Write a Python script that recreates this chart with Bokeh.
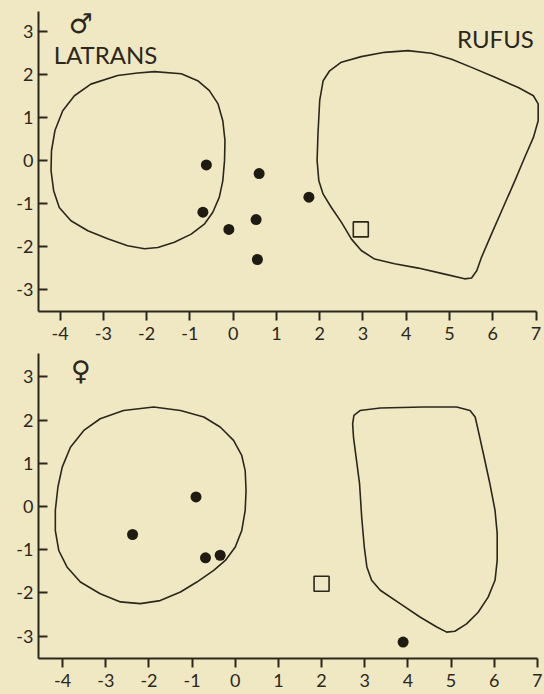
from bokeh.plotting import figure
from bokeh.layouts import column
from bokeh.models import Range1d, FixedTicker
from bokeh.core.properties import value
from bokeh.embed import file_html
from bokeh.resources import INLINE

# ---- data -------------------------------------------------------------
tick_x = [-4, -3, -2, -1, 0, 1, 2, 3, 4, 5, 6, 7]
tick_x_labels = ["-4", "-3", "-2", "-1", "0", "1", "2", "3", "4", "5", "6", "7"]
tick_y = [-3, -2, -1, 0, 1, 2, 3]
tick_y_labels = ["-3", "-2", "-1", "0", "1", "2", "3"]

# males: LATRANS and RUFUS outlines
m_latrans_x = [-1.82, -1.20, -0.82, -0.55, -0.35, -0.24, -0.19, -0.20, -0.24, -0.32, -0.47, -0.66,
               -0.97, -1.36, -1.74, -2.05, -2.44, -2.90, -3.36, -3.75, -4.02, -4.15, -4.21, -4.20,
               -4.12, -3.94, -3.67, -3.29, -2.67, -2.21]
m_latrans_y = [2.07, 2.02, 1.86, 1.63, 1.32, 0.93, 0.47, 0.00, -0.47, -0.85, -1.20, -1.47,
               -1.71, -1.90, -2.02, -2.05, -1.98, -1.82, -1.63, -1.40, -1.09, -0.70, -0.23, 0.23,
               0.70, 1.16, 1.51, 1.78, 1.98, 2.04]
m_rufus_x = [4.04, 4.58, 5.05, 5.51, 6.05, 6.59, 6.94, 7.05, 7.05, 6.94, 6.74, 6.51, 6.24, 5.97,
             5.74, 5.63, 5.51, 5.35, 4.89, 4.28, 3.73, 3.27, 2.96, 2.73, 2.50, 2.27, 2.08, 1.98,
             1.94, 1.96, 2.00, 2.08, 2.23, 2.50, 2.96, 3.50]
m_rufus_y = [2.56, 2.50, 2.36, 2.17, 1.94, 1.70, 1.51, 1.32, 0.93, 0.54, 0.08, -0.47, -1.09, -1.71,
             -2.25, -2.56, -2.73, -2.75, -2.64, -2.50, -2.40, -2.29, -2.09, -1.82, -1.43, -1.09,
             -0.78, -0.47, 0.00, 0.62, 1.40, 1.86, 2.09, 2.29, 2.42, 2.52]
m_dots_x = [-0.62, -0.70, -0.10, 0.60, 0.53, 0.56, 1.75]
m_dots_y = [-0.10, -1.20, -1.60, -0.30, -1.37, -2.30, -0.85]
m_square_x = [2.95]
m_square_y = [-1.60]

# females: LATRANS and RUFUS outlines
f_latrans_x = [-1.89, -1.27, -0.73, -0.35, -0.04, 0.15, 0.23, 0.25, 0.23, 0.15, 0.00, -0.23,
               -0.50, -0.89, -1.27, -1.74, -2.20, -2.66, -3.13, -3.59, -3.90, -4.09, -4.17, -4.17,
               -4.11, -4.01, -3.82, -3.51, -3.13, -2.59]
f_latrans_y = [2.30, 2.22, 2.07, 1.84, 1.53, 1.18, 0.83, 0.37, -0.09, -0.56, -0.94, -1.25,
               -1.48, -1.75, -1.98, -2.18, -2.25, -2.21, -2.02, -1.75, -1.40, -1.02, -0.56, -0.09,
               0.45, 0.91, 1.37, 1.76, 2.03, 2.22]
f_rufus_x = [2.89, 3.36, 4.36, 5.13, 5.44, 5.56, 5.63, 5.75, 5.90, 6.02, 6.07, 6.07, 6.02, 5.86,
             5.63, 5.36, 5.09, 4.90, 4.67, 4.28, 3.82, 3.36, 3.16, 3.05, 2.99, 2.93, 2.88, 2.80,
             2.74, 2.72, 2.75]
f_rufus_y = [2.22, 2.28, 2.30, 2.30, 2.22, 2.07, 1.76, 1.22, 0.53, -0.09, -0.63, -1.25, -1.71,
             -2.10, -2.45, -2.72, -2.89, -2.91, -2.79, -2.56, -2.25, -1.94, -1.71, -1.40, -0.94,
             -0.25, 0.53, 1.14, 1.60, 1.91, 2.11]
f_dots_x = [-0.91, -2.38, -0.69, -0.35, 3.89]
f_dots_y = [0.22, -0.65, -1.19, -1.13, -3.14]
f_square_x = [2.00]
f_square_y = [-1.79]

# ---- styling ----------------------------------------------------------
BG = "#F0E8C3"
INK = "#2B271C"
FONT = "Lato"


def panel(height, y_rng, x_rng, top, bottom):
    p = figure(width=544, height=height, output_backend="svg", toolbar_location=None,
               x_range=Range1d(*x_rng), y_range=Range1d(*y_rng),
               min_border_left=38, min_border_right=2, min_border_top=top,
               min_border_bottom=bottom)
    p.background_fill_color = BG
    p.border_fill_color = BG
    p.outline_line_color = None
    p.grid.visible = False

    xa = p.xaxis[0]
    xa.bounds = (x_rng[0], 7)
    xa.ticker = FixedTicker(ticks=tick_x)
    xa.major_label_overrides = dict(zip(tick_x, tick_x_labels))
    xa.major_tick_in = 0
    xa.major_tick_out = 9
    xa.major_label_standoff = 6

    ya = p.yaxis[0]
    ya.ticker = FixedTicker(ticks=tick_y)
    ya.major_label_overrides = dict(zip(tick_y, tick_y_labels))
    ya.major_tick_in = 9
    ya.major_tick_out = 0
    ya.major_label_standoff = 5

    for ax in (xa, ya):
        ax.minor_tick_line_color = None
        ax.axis_line_color = INK
        ax.axis_line_width = 2
        ax.major_tick_line_color = INK
        ax.major_tick_line_width = 2
        ax.major_label_text_font = FONT
        ax.major_label_text_font_size = "18px"
        ax.major_label_text_color = INK
    return p


def draw(p, lat_x, lat_y, ruf_x, ruf_y, dx, dy, sx, sy):
    for xs, ys in ((lat_x, lat_y), (ruf_x, ruf_y)):
        p.patch(xs, ys, fill_color=None, line_color=INK, line_width=1.6, line_join="round")
    p.scatter(dx, dy, marker="circle", size=11, fill_color="#1F1B12", line_color=None)
    p.scatter(sx, sy, marker="square", size=15, fill_color=None, line_color=INK, line_width=1.6)


# top: males
p1 = panel(347, (-3.51, 3.47), (-4.5, 7.15), 11, 36)
draw(p1, m_latrans_x, m_latrans_y, m_rufus_x, m_rufus_y, m_dots_x, m_dots_y, m_square_x, m_square_y)
p1.text(x=[-3.52], y=[3.2], text=["\u2642"], text_font=value("DejaVu Sans"), text_font_size="27px",
        text_align="center", text_baseline="middle", text_color=INK)
p1.text(x=[-4.15], y=[2.47], text=["LATRANS"], text_font=value(FONT), text_font_size="24px",
        text_align="left", text_baseline="middle", text_color=INK)
p1.text(x=[6.95], y=[2.85], text=["RUFUS"], text_font=value(FONT), text_font_size="24px",
        text_align="right", text_baseline="middle", text_color=INK)

# bottom: females
p2 = panel(347, (-3.52, 3.54), (-4.56, 7.12), 6, 36)
draw(p2, f_latrans_x, f_latrans_y, f_rufus_x, f_rufus_y, f_dots_x, f_dots_y, f_square_x, f_square_y)
p2.text(x=[-3.58], y=[3.15], text=["\u2640"], text_font=value("DejaVu Sans"), text_font_size="27px",
        text_align="center", text_baseline="middle", text_color=INK)

layout = column(p1, p2, spacing=0)
layout.styles = {"background-color": BG}

open("out.html", "w").write(file_html(layout, INLINE))
